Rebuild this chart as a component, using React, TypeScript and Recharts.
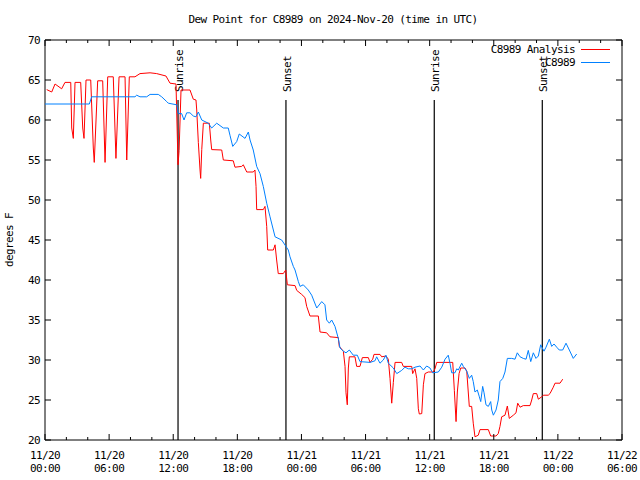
import React from "react";
import {
  LineChart,
  Line,
  XAxis,
  YAxis,
  Legend,
  ReferenceLine,
  ReferenceArea,
} from "recharts";

// hours since 2024-11-20 00:00 UTC
const analysisTimes = [
  0.16, 0.63, 0.94, 1.56, 1.87, 2.41, 2.5, 2.65, 2.81, 3.34, 3.53, 3.65, 3.84, 4.28, 4.52, 4.61,
  4.93, 5.4, 5.62, 5.87, 6.39, 6.64, 6.93, 7.49, 7.65, 7.89, 8.42, 8.89, 9.83, 10.45, 11.32, 11.7,
  12.26, 12.45, 12.55, 12.73, 13.57, 13.88, 14.13, 14.2, 14.35, 14.51, 14.57, 14.67, 14.82, 15.38,
  15.51, 15.6, 16.54, 16.69, 17.62, 17.78, 18.41, 18.56, 18.88, 19.49, 19.65, 19.75, 19.81, 20.43,
  20.59, 20.75, 20.84, 21.37, 21.53, 21.68, 21.83, 22.3, 22.53, 22.68, 23.4, 23.56, 24.02, 24.33,
  24.49, 24.8, 25.58, 25.74, 26.36, 26.67, 27.45, 27.54, 27.92, 28.08, 28.17, 28.29, 28.39, 28.48,
  29.01, 29.17, 29.48, 29.7, 30.26, 30.42, 30.67, 30.79, 31.35, 31.51, 31.91, 32.13, 32.29, 32.45,
  32.6, 32.76, 33.38, 33.53, 34.32, 34.41, 34.63, 34.79, 34.94, 35.03, 35.26, 35.41, 35.56, 35.87,
  36.34, 36.5, 36.66, 38.16, 38.31, 38.47, 38.59, 38.75, 38.91, 39.31, 39.47, 39.71, 39.93, 40.08,
  40.24, 40.55, 40.71, 41.49, 41.71, 42.21, 42.42, 42.58, 42.74, 43.05, 43.27, 43.45, 43.83, 44.08,
  44.24, 44.46, 44.76, 45.39, 45.55, 45.7, 46.02, 46.17, 46.49, 46.64, 47.1, 47.26, 47.57, 47.73,
  48.2, 48.45,
];
const analysisValues = [
  63.8, 63.5, 64.5, 63.9, 64.7, 64.7, 59.0, 57.7, 64.7, 64.7, 59.0, 57.7, 65.0, 65.0, 56.5, 54.7,
  64.9, 64.9, 54.7, 65.4, 65.4, 55.2, 65.4, 65.4, 55.0, 65.4, 65.4, 65.8, 65.9, 65.8, 65.5, 64.6,
  64.5, 54.4, 56.2, 63.75, 63.75, 62.6, 62.5, 61.25, 57.2, 53.75, 52.7, 56.3, 59.6, 59.6,
  57.5, 56.3, 56.25, 55.0, 54.9, 54.1, 54.2, 54.4, 53.5, 53.5, 53.75, 51.7, 48.8, 48.8,
  49.2, 46.7, 43.75, 43.75, 44.4, 42.5, 40.8, 40.8, 41.25, 39.4, 39.3, 38.7, 38.2, 37.8,
  36.7, 35.5, 35.5, 33.5, 33.4, 32.9, 32.8, 31.7, 31.1, 29.2, 25.9, 24.4, 29.0, 30.4,
  30.4, 29.2, 29.2, 30.3, 30.3, 29.7, 30.1, 30.7, 30.7, 30.4, 30.5, 30.1, 27.7, 24.6,
  27.2, 29.7, 29.7, 29.2, 29.2, 28.3, 28.9, 27.7, 23.9, 23.25, 23.3, 26.9, 28.3, 28.5,
  28.5, 28.9, 29.7, 29.7, 26.2, 22.3, 26.0, 28.3, 29.0, 29.0, 28.6, 24.2, 24.2, 22.1,
  20.4, 20.6, 21.3, 21.3, 20.5, 20.5, 20.8, 21.7, 22.9, 23.1, 24.25, 22.7, 23.1, 23.4,
  24.6, 24.1, 24.3, 24.3, 25.0, 25.8, 25.8, 25.1, 25.4, 25.6, 25.6, 25.8, 26.6, 27.1,
  27.1, 27.6,
];

const stationTimes = [
  0, 4.15, 4.37, 8.42, 8.58, 8.89, 9.52, 9.83, 10.6, 10.92, 11.39, 11.54, 12.33, 12.48, 12.79,
  13.01, 13.26, 13.57, 13.88, 14.13, 14.35, 14.67, 14.97, 15.28, 15.6, 16.07, 16.69, 17.15, 17.31,
  17.57, 17.94, 18.18, 18.72, 19.03, 19.19, 19.49, 19.81, 20.12, 20.43, 20.75, 21.06, 21.53, 22.15,
  22.55, 22.77, 22.93, 23.24, 23.4, 23.71, 23.87, 24.17, 24.64, 24.96, 25.43, 25.9, 26.2, 26.36,
  26.61, 26.83, 27.14, 27.45, 27.61, 27.92, 28.17, 28.48, 28.85, 29.23, 29.48, 30.42, 30.88, 31.04,
  31.35, 31.66, 31.91, 32.13, 32.6, 32.92, 33.38, 33.69, 34.0, 34.32, 34.63, 35.1, 35.41, 35.72,
  36.03, 36.28, 36.81, 37.13, 37.44, 37.74, 37.9, 38.06, 38.37, 38.53, 38.68, 39.0, 39.15, 39.47,
  39.71, 39.93, 40.08, 40.24, 40.46, 40.65, 40.78, 40.96, 41.09, 41.27, 41.49, 41.71, 41.81, 41.96,
  42.21, 42.42, 42.58, 42.84, 43.05, 43.27, 43.68, 43.99, 44.2, 44.46, 44.76, 45.02, 45.23, 45.46,
  45.7, 45.95, 46.17, 46.39, 46.7, 46.89, 47.2, 47.42, 47.64, 47.89, 48.13, 48.45, 48.76, 49.07,
  49.44, 49.76,
];
const stationValues = [
  62.0, 62.0, 62.9, 62.9, 63.1, 62.9, 62.9, 63.2, 63.2, 62.9, 62.3, 62.1, 61.9, 60.8, 60.8,
  60.0, 60.9, 60.9, 60.5, 60.4, 61.0, 60.0, 59.8, 59.6, 59.0, 59.6, 59.0, 59.0, 58.1,
  56.7, 57.3, 58.25, 57.7, 58.5, 57.5, 56.25, 54.2, 53.3, 51.7, 49.6, 47.9, 45.4, 45.0,
  44.2, 43.75, 42.9, 41.7, 41.25, 39.8, 39.2, 39.4, 38.75, 38.1, 36.5, 37.3, 36.9, 35.0,
  34.6, 35.0, 34.2, 32.7, 31.5, 31.1, 30.9, 31.25, 30.6, 30.6, 29.8, 29.7, 29.9, 30.4,
  29.6, 30.0, 30.6, 29.6, 29.0, 28.3, 28.7, 29.1, 28.9, 28.9, 29.1, 29.25, 28.75, 29.25,
  29.0, 28.4, 28.5, 29.1, 30.1, 30.6, 29.6, 28.4, 28.4, 28.9, 28.75, 29.6, 29.2, 28.6,
  27.7, 28.1, 27.3, 26.0, 26.25, 25.4, 24.8, 26.7, 25.9, 24.4, 24.2, 24.8, 23.75, 23.1,
  23.75, 25.0, 27.3, 27.7, 28.5, 30.2, 30.2, 30.1, 30.9, 30.4, 30.2, 30.1, 31.2, 29.8,
  30.9, 30.2, 30.5, 31.9, 31.1, 31.6, 32.6, 31.7, 32.0, 31.6, 31.25, 31.25, 32.1, 31.25,
  30.2, 30.75,
];

const seriesNames = ["C8989 Analysis", "C8989"];

const sunNames = ["Sunrise", "Sunset", "Sunrise", "Sunset"];
const sunTimes = [12.45, 22.55, 36.43, 46.54];
const sunLineTop = 62.5;

const majorTicks = [0, 6, 12, 18, 24, 30, 36, 42, 48, 54];
const majorDates = ["11/20", "11/20", "11/20", "11/20", "11/21", "11/21", "11/21", "11/21", "11/22", "11/22"];
const majorClock = ["00:00", "06:00", "12:00", "18:00", "00:00", "06:00", "12:00", "18:00", "00:00", "06:00"];
const minorTicks = [2, 4, 8, 10, 14, 16, 20, 22, 26, 28, 32, 34, 38, 40, 44, 46, 50, 52];
const yTicks = [20, 25, 30, 35, 40, 45, 50, 55, 60, 65, 70];

const analysisData = analysisTimes.map((t, i) => ({ t, v: analysisValues[i] }));
const stationData = stationTimes.map((t, i) => ({ t, v: stationValues[i] }));

const FONT = '"DejaVu Sans Mono", monospace';
const W = 640;
const H = 480;
const MARGIN = { top: 40, right: 18, bottom: 0, left: 0 };
const Y_AXIS_W = 45;
const X_AXIS_H = 40;
const PLOT_LEFT = MARGIN.left + Y_AXIS_W;
const PLOT_RIGHT = W - MARGIN.right;
const PLOT_TOP = MARGIN.top;
const PLOT_BOTTOM = H - MARGIN.bottom - X_AXIS_H;

const textStyle = { fontFamily: FONT, fontSize: 11, letterSpacing: -0.6, fill: "#000" };

const XTick = (props: any) => {
  const { x, payload } = props;
  const idx = majorTicks.indexOf(payload.value);
  const len = idx >= 0 ? 6 : 3;
  return (
    <g>
      <line x1={x} x2={x} y1={PLOT_BOTTOM} y2={PLOT_BOTTOM - len} stroke="#000" />
      <line x1={x} x2={x} y1={PLOT_TOP} y2={PLOT_TOP + len} stroke="#000" />
      {idx >= 0 && (
        <text {...textStyle} textAnchor="middle">
          <tspan x={x} y={PLOT_BOTTOM + 19}>{majorDates[idx]}</tspan>
          <tspan x={x} y={PLOT_BOTTOM + 32}>{majorClock[idx]}</tspan>
        </text>
      )}
    </g>
  );
};

const YTick = (props: any) => {
  const { y, payload } = props;
  return (
    <g>
      <line x1={PLOT_LEFT} x2={PLOT_LEFT + 6} y1={y} y2={y} stroke="#000" />
      <line x1={PLOT_RIGHT} x2={PLOT_RIGHT - 6} y1={y} y2={y} stroke="#000" />
      <text {...textStyle} x={PLOT_LEFT - 5} y={y} dy="0.35em" textAnchor="end">
        {payload.value}
      </text>
    </g>
  );
};

const sunLabel = (name: string) => (props: any) => {
  const { viewBox } = props;
  const x = viewBox.x + 5;
  const y = viewBox.y - 8;
  return (
    <text {...textStyle} x={x} y={y} textAnchor="start" transform={`rotate(-90 ${x} ${y})`}>
      {name}
    </text>
  );
};

const LegendBox = (props: any) => {
  const items = [...(props.payload || [])].sort(
    (a: any, b: any) => seriesNames.indexOf(a.value) - seriesNames.indexOf(b.value)
  );
  return (
    <div style={{ fontFamily: FONT, fontSize: 11, letterSpacing: -0.6 }}>
      {items.map((p: any) => (
        <div
          key={p.value}
          style={{ display: "flex", alignItems: "center", justifyContent: "flex-end", height: 13 }}
        >
          <span>{p.value}</span>
          <span
            style={{
              display: "inline-block",
              width: 29,
              height: 0,
              borderTop: `1px solid ${p.color}`,
              marginLeft: 6,
            }}
          />
        </div>
      ))}
    </div>
  );
};

export default function App() {
  return (
    <div style={{ position: "absolute", left: 0, top: 0, width: W, height: H, background: "#fff" }}>
      <div
        style={{
          position: "absolute",
          left: 0,
          top: 13,
          width: 666,
          textAlign: "center",
          fontFamily: FONT,
          fontSize: 11,
          letterSpacing: -0.6,
        }}
      >
        Dew Point for C8989 on 2024-Nov-20 (time in UTC)
      </div>
      <LineChart width={W} height={H} margin={MARGIN}>
        <XAxis
          dataKey="t"
          type="number"
          domain={[0, 54]}
          ticks={[...majorTicks, ...minorTicks].sort((a, b) => a - b)}
          interval={0}
          height={X_AXIS_H}
          axisLine={false}
          tickLine={false}
          tick={<XTick />}
          allowDuplicatedCategory={false}
        />
        <YAxis
          type="number"
          domain={[20, 70]}
          ticks={yTicks}
          interval={0}
          width={Y_AXIS_W}
          axisLine={false}
          tickLine={false}
          tick={<YTick />}
          label={{
            content: (p: any) => {
              const cx = p.viewBox.x + 13;
              const cy = p.viewBox.y + p.viewBox.height / 2;
              return (
                <text {...textStyle} x={cx} y={cy} textAnchor="middle" transform={`rotate(-90 ${cx} ${cy})`}>
                  degrees F
                </text>
              );
            },
          }}
        />
        <ReferenceArea x1={0} x2={54} y1={20} y2={70} fill="none" stroke="#000" strokeWidth={1} />
        {sunTimes.map((t, i) => (
          <ReferenceLine
            key={`sun-${i}`}
            segment={[
              { x: t, y: sunLineTop },
              { x: t, y: 20 },
            ]}
            stroke="#000"
            strokeWidth={1.2}
            label={{ content: sunLabel(sunNames[i]) }}
          />
        ))}
        <Legend
          layout="vertical"
          align="center"
          verticalAlign="middle"
          content={<LegendBox />}
          wrapperStyle={{ top: 43, right: 30, left: "auto", width: "auto" }}
        />
        <Line
          data={analysisData}
          dataKey="v"
          name={seriesNames[0]}
          stroke="#ff0000"
          strokeWidth={1}
          dot={false}
          isAnimationActive={false}
        />
        <Line
          data={stationData}
          dataKey="v"
          name={seriesNames[1]}
          stroke="#0080ff"
          strokeWidth={1}
          dot={false}
          isAnimationActive={false}
        />
      </LineChart>
    </div>
  );
}
